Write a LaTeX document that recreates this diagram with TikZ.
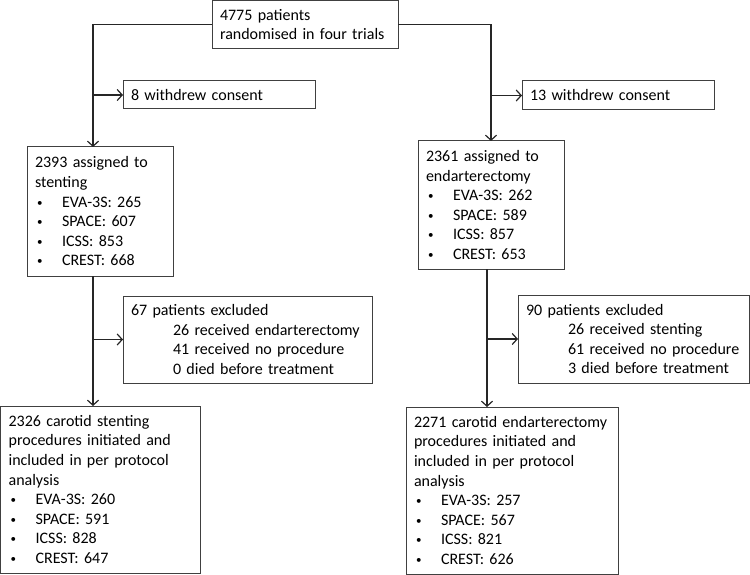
\documentclass[tikz,border=0pt]{standalone}
\usepackage{fontspec}
\setmainfont{Carlito}
\usetikzlibrary{arrows.meta}
\frenchspacing
\newcommand{\bul}{\makebox[27pt][l]{\hspace*{2pt}{\fontsize{11}{11}\selectfont\raisebox{1pt}{\textbullet}}}}
\newcommand{\ind}{\hspace*{42pt}}
\begin{document}
\begin{tikzpicture}[x=1pt,y=-1pt,
  box/.style={draw=black!75, line width=1pt, anchor=north west, align=left,
    inner xsep=8pt, inner ysep=0pt, outer sep=0pt,
    font=\fontsize{16}{19.6}\selectfont\frenchspacing},
  arr/.style={line width=1.2pt, draw=black!85, -{Straight Barb[length=5pt,width=11pt]}}]
\useasboundingbox (0,0) rectangle (750,575);
\node[box, minimum width=186pt, minimum height=47.5pt, text width=170pt] (top) at (212,0.6)
  {4775 patients\\randomised in four trials};
\node[box, minimum width=192pt, minimum height=28pt, text width=176pt] (wL) at (123,81)
  {8 withdrew consent};
\node[box, minimum width=192pt, minimum height=29pt, text width=176pt] (wR) at (522,81)
  {13 withdrew consent};
\node[box, minimum width=146pt, minimum height=129pt, text width=130pt] (sL) at (27,147)
  {2393 assigned to\\stenting\\\bul EVA-3S: 265\\\bul SPACE: 607\\\bul ICSS: 853\\\bul CREST: 668};
\node[box, minimum width=146pt, minimum height=128pt, text width=130pt] (sR) at (418,141)
  {2361 assigned to\\endarterectomy\\\bul EVA-3S: 262\\\bul SPACE: 589\\\bul ICSS: 857\\\bul CREST: 653};
\node[box, minimum width=249pt, minimum height=87pt, text width=233pt] (eL) at (123,296)
  {67 patients excluded\\\ind 26 received endarterectomy\\\ind 41 received no procedure\\\ind 0 died before treatment};
\node[box, minimum width=231pt, minimum height=88pt, text width=215pt] (eR) at (518,295)
  {90 patients excluded\\\ind 26 received stenting\\\ind 61 received no procedure\\\ind 3 died before treatment};
\node[box, minimum width=200pt, minimum height=167pt, text width=184pt] (fL) at (0.6,406)
  {2326 carotid stenting\\procedures initiated and\\included in per protocol\\analysis\\\bul EVA-3S: 260\\\bul SPACE: 591\\\bul ICSS: 828\\\bul CREST: 647};
\node[box, minimum width=212pt, minimum height=167pt, text width=196pt] (fR) at (406,407)
  {2271 carotid endarterectomy\\procedures initiated and\\included in per protocol\\analysis\\\bul EVA-3S: 257\\\bul SPACE: 567\\\bul ICSS: 821\\\bul CREST: 626};
\coordinate (cL) at (93,0);
\coordinate (cR) at (487,0);
\draw[arr] (top.west) -| (cL |- sL.north);
\draw[arr] (cL |- wL.west) -- (wL.west);
\draw[arr] (top.east) -| (sR.north);
\draw[arr] (sR.north |- wR.west) -- (wR.west);
\draw[arr] (cL |- sL.south) -- (cL |- fL.north);
\draw[arr] (cL |- eL.west) -- (eL.west);
\draw[arr] (cR |- sR.south) -- (cR |- fR.north);
\draw[arr] (cR |- eR.west) -- (eR.west);
\end{tikzpicture}
\end{document}
